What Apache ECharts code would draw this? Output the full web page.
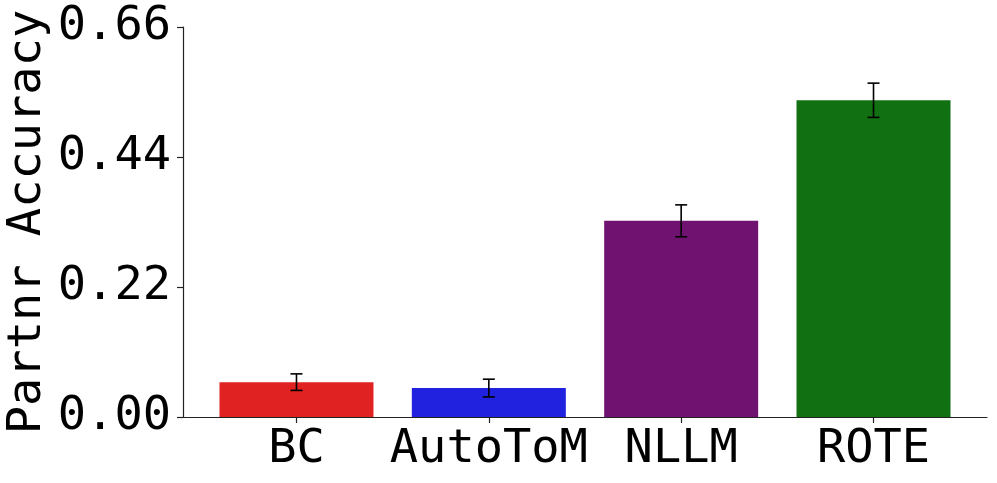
<!DOCTYPE html>
<html>
<head>
<meta charset="utf-8">
<script src="https://cdn.jsdelivr.net/npm/echarts@6/dist/echarts.min.js"></script>
<style>
  html, body { margin: 0; padding: 0; background: #fff; }
  #chart { width: 997px; height: 483px; }
</style>
</head>
<body>
<div id="chart"></div>
<script>
var categories = ['BC', 'AutoToM', 'NLLM', 'ROTE'];
var accuracy = [0.059, 0.049, 0.332, 0.536];
var errHalf = [0.014, 0.015, 0.027, 0.029];
var barColors = ['#e02222', '#2121e0', '#701270', '#117011'];
var yTicks = [0, 0.22, 0.44, 0.66];
var yTitle = 'Partnr Accuracy';

var font = 'DejaVu Sans Mono';

var chart = echarts.init(document.getElementById('chart'));

var barData = accuracy.map(function (v, i) {
  return { value: [i, v], itemStyle: { color: barColors[i] } };
});
var errData = accuracy.map(function (v, i) {
  return [i, v - errHalf[i], v + errHalf[i]];
});

var option = {
  animation: false,
  grid: { left: 183, right: 10, top: 27, bottom: 66, containLabel: false, outerBoundsMode: 'none' },
  // y title placed by hand, the axis name kept getting pushed to the edge
  graphic: [{
    type: 'text',
    x: 28,
    y: 222,
    rotation: Math.PI / 2,
    style: {
      text: yTitle,
      x: 0, y: 0,
      fontFamily: font, fontSize: 47, fill: '#000',
      textAlign: 'center', textVerticalAlign: 'middle'
    }
  }],
  xAxis: {
    type: 'value',
    min: -0.59,
    max: 3.59,
    splitLine: { show: false },
    axisLine: { show: true, onZero: false, lineStyle: { color: '#222', width: 1.2 } },
    axisTick: { show: true, length: 6, customValues: [0, 1, 2, 3], lineStyle: { color: '#222', width: 1.2 } },
    axisLabel: {
      customValues: [0, 1, 2, 3],
      formatter: function (v) { return categories[Math.round(v)]; },
      fontFamily: font, fontSize: 47, color: '#000', margin: 9
    }
  },
  yAxis: {
    type: 'value',
    min: 0,
    max: 0.66,
    interval: 0.22,
    splitLine: { show: false },
    axisLine: { show: true, onZero: false, lineStyle: { color: '#222', width: 1.2 } },
    axisTick: { show: true, length: 6, customValues: yTicks, lineStyle: { color: '#222', width: 1.2 } },
    axisLabel: {
      customValues: yTicks,
      formatter: function (v) { return v.toFixed(2); },
      fontFamily: font, fontSize: 47, color: '#000', margin: 12
    }
  },
  series: [
    {
      type: 'bar',
      data: barData,
      barWidth: 154
    },
    {
      type: 'custom',
      data: errData,
      z: 10,
      renderItem: function (params, api) {
        var lo = api.coord([api.value(0), api.value(1)]);
        var hi = api.coord([api.value(0), api.value(2)]);
        var cap = 6;
        var style = { stroke: '#000', lineWidth: 1.6 };
        return {
          type: 'group',
          children: [
            { type: 'line', shape: { x1: lo[0], y1: lo[1], x2: hi[0], y2: hi[1] }, style: style },
            { type: 'line', shape: { x1: lo[0] - cap, y1: lo[1], x2: lo[0] + cap, y2: lo[1] }, style: style },
            { type: 'line', shape: { x1: hi[0] - cap, y1: hi[1], x2: hi[0] + cap, y2: hi[1] }, style: style }
          ]
        };
      }
    }
  ]
};

chart.setOption(option);
</script>
</body>
</html>
